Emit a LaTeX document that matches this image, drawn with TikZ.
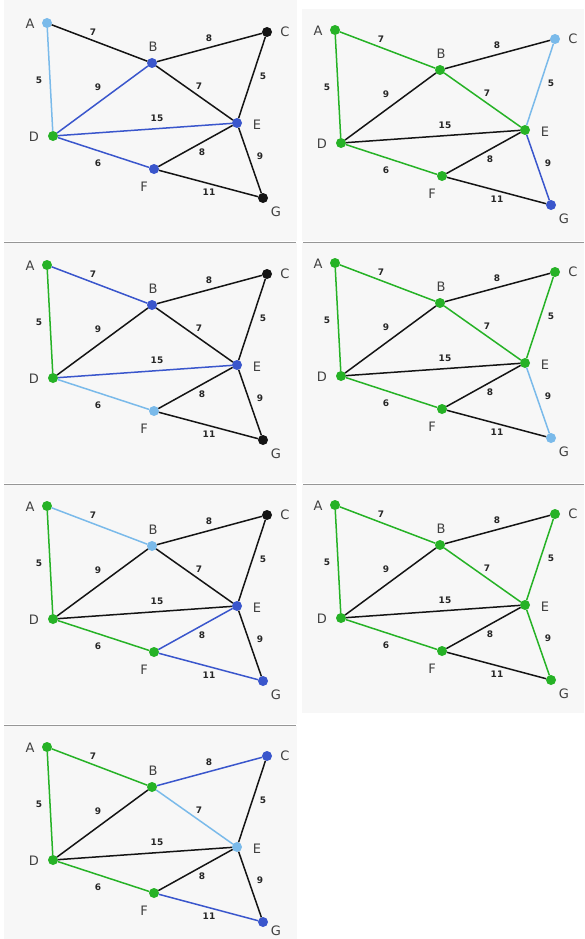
\documentclass[tikz,border=0pt]{standalone}
\usepackage{fontspec}
\setmainfont{DejaVu Sans}
\definecolor{gr}{RGB}{38,178,38}
\definecolor{bl}{RGB}{58,86,204}
\definecolor{lb}{RGB}{122,186,234}
\definecolor{blk}{RGB}{20,20,20}
\definecolor{panelbg}{RGB}{247,247,247}
\definecolor{sepline}{RGB}{150,150,150}
\tikzset{
  vtx/.style={circle, minimum size=10pt, inner sep=0pt, outer sep=0pt, draw=none},
  edge/.style={line width=1.5pt},
  vlabel/.style={font=\fontsize{13}{13}\selectfont, text=black!75, inner sep=0pt},
  wlabel/.style={font=\bfseries\fontsize{9}{9}\selectfont, text=black!85, inner sep=0pt},
  panelbox/.style={fill=panelbg, draw=none},
  sepl/.style={draw=sepline, line width=1pt},
}
\newcommand\setcols[2]{%
  \foreach \k in {A,B,C,D,E,F,G}{\edef\tmp{\noexpand\xglobal\noexpand\colorlet{c\k}{blk}}\tmp}%
  \foreach \k/\c in {#1}{\edef\tmp{\noexpand\xglobal\noexpand\colorlet{c\k}{\c}}\tmp}%
  \foreach \k in {AB,AD,BC,BD,BE,CE,DE,DF,EF,EG,FG}{\edef\tmp{\noexpand\xglobal\noexpand\colorlet{e\k}{blk}}\tmp}%
  \foreach \k/\c in {#2}{\edef\tmp{\noexpand\xglobal\noexpand\colorlet{e\k}{\c}}\tmp}%
}
% #1 dx, #2 dy, #3 id, #4 y of the G label
\newcommand\drawpanel[4]{%
\begin{scope}[shift={(#1,#2)}]
  \node[vtx, fill=cA] (#3A) at (47,23) {};
  \node[vtx, fill=cB] (#3B) at (152,63) {};
  \node[vtx, fill=cC] (#3C) at (267,32) {};
  \node[vtx, fill=cD] (#3D) at (53,136) {};
  \node[vtx, fill=cE] (#3E) at (237,123) {};
  \node[vtx, fill=cF] (#3F) at (154,169) {};
  \node[vtx, fill=cG] (#3G) at (263,198) {};
  \draw[edge, draw=eAB] (#3A) -- (#3B);
  \draw[edge, draw=eAD] (#3A) -- (#3D);
  \draw[edge, draw=eBC] (#3B) -- (#3C);
  \draw[edge, draw=eBD] (#3B) -- (#3D);
  \draw[edge, draw=eBE] (#3B) -- (#3E);
  \draw[edge, draw=eCE] (#3C) -- (#3E);
  \draw[edge, draw=eDE] (#3D) -- (#3E);
  \draw[edge, draw=eDF] (#3D) -- (#3F);
  \draw[edge, draw=eEF] (#3E) -- (#3F);
  \draw[edge, draw=eEG] (#3E) -- (#3G);
  \draw[edge, draw=eFG] (#3F) -- (#3G);
  \node[vlabel] (#3lA) at (30,24) {A};
  \node[vlabel] (#3lB) at (153,47) {B};
  \node[vlabel] (#3lC) at (285,32) {C};
  \node[vlabel] (#3lD) at (34,137) {D};
  \node[vlabel] (#3lE) at (257,125) {E};
  \node[vlabel] (#3lF) at (144,187) {F};
  \node[vlabel] (#3lG) at (276,#4) {G};
  \node[wlabel] (#3wAB) at (93,32) {7};
  \node[wlabel] (#3wBC) at (209,38) {8};
  \node[wlabel] (#3wAD) at (39,80) {5};
  \node[wlabel] (#3wBD) at (98,87) {9};
  \node[wlabel] (#3wBE) at (199,86) {7};
  \node[wlabel] (#3wCE) at (263,76) {5};
  \node[wlabel] (#3wDE) at (157,118) {15};
  \node[wlabel] (#3wEF) at (202,152) {8};
  \node[wlabel] (#3wEG) at (260,156) {9};
  \node[wlabel] (#3wDF) at (98,163) {6};
  \node[wlabel] (#3wFG) at (209,192) {11};
\end{scope}}
\begin{document}
\begin{tikzpicture}[x=1pt, y=-1pt]
  \useasboundingbox (0,0) rectangle (584,939);
  \fill[white] (0,0) rectangle (584,939);
  % panels
  \fill[panelbox] (4,0) rectangle (297,241);
  \fill[panelbox] (4,243) rectangle (297,483);
  \fill[panelbox] (4,485) rectangle (297,724);
  \fill[panelbox] (4,726) rectangle (297,939);
  \fill[panelbox] (302,9) rectangle (584,241);
  \fill[panelbox] (302,243) rectangle (584,483);
  \fill[panelbox] (302,485) rectangle (584,713);
  \draw[sepl] (4,242) -- (296,242);
  \draw[sepl] (4,484) -- (296,484);
  \draw[sepl] (4,725) -- (296,725);
  \draw[sepl] (303,242) -- (584,242);
  \draw[sepl] (303,484) -- (584,484);
  % panel 1
  \setcols{A/lb,D/gr,B/bl,E/bl,F/bl}{AD/lb,BD/bl,DE/bl,DF/bl}
  \drawpanel{0}{0}{p1}{212}
  % panel 2
  \setcols{A/gr,B/gr,D/gr,E/gr,F/gr,C/lb,G/bl}{AD/gr,AB/gr,BE/gr,DF/gr,CE/lb,EG/bl}
  \drawpanel{288}{7}{p2}{212}
  % panel 3
  \setcols{A/gr,D/gr,B/bl,E/bl,F/lb}{AD/gr,AB/bl,DE/bl,DF/lb}
  \drawpanel{0}{242}{p3}{212}
  % panel 4
  \setcols{A/gr,B/gr,C/gr,D/gr,E/gr,F/gr,G/lb}{AD/gr,AB/gr,BE/gr,DF/gr,CE/gr,EG/lb}
  \drawpanel{288}{240}{p4}{212}
  % panel 5
  \setcols{A/gr,D/gr,F/gr,B/lb,E/bl,G/bl}{AD/gr,DF/gr,AB/lb,EF/bl,FG/bl}
  \drawpanel{0}{483}{p5}{212}
  % panel 6
  \setcols{A/gr,B/gr,C/gr,D/gr,E/gr,F/gr,G/gr}{AD/gr,AB/gr,BE/gr,DF/gr,CE/gr,EG/gr}
  \drawpanel{288}{482}{p6}{212}
  % panel 7
  \setcols{A/gr,B/gr,D/gr,F/gr,C/bl,E/lb,G/bl}{AD/gr,AB/gr,DF/gr,BC/bl,BE/lb,FG/bl}
  \drawpanel{0}{724}{p7}{207}
\end{tikzpicture}
\end{document}
